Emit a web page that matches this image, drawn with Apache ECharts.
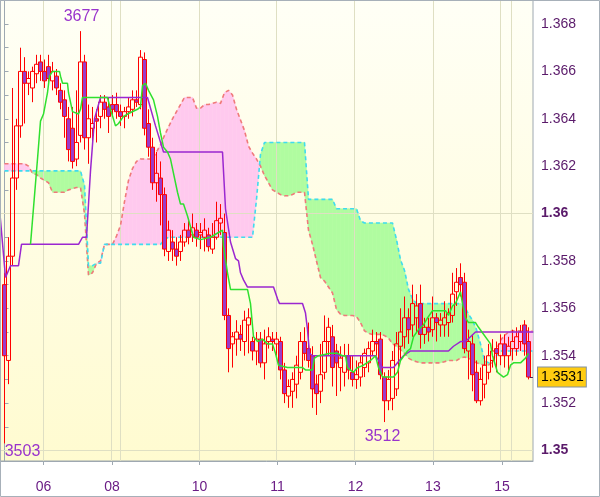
<!DOCTYPE html>
<html><head><meta charset="utf-8">
<script src="https://cdn.jsdelivr.net/npm/echarts@6/dist/echarts.min.js"></script>
<style>html,body{margin:0;padding:0;background:#fff}#c{width:600px;height:497px}</style>
</head><body><div id="c"></div>
<script>
// ---- data (bar index on x, price on y) ----
const dayLabels = ['06','08','10','11','12','13','15'];
const dayLabelPos = [9.75, 26.9, 48.75, 68.25, 87.75, 107.1, 124.4];
const dayLinePos = [9.75, 26.75, 29, 48.6, 68, 87.5, 107.1, 124, 126.7];
const priceLabels = [1.350,1.352,1.354,1.356,1.358,1.360,1.362,1.364,1.366,1.368];
const priceTicks = [1.350,1.351,1.352,1.353,1.354,1.355,1.356,1.357,1.358,1.359,1.360,1.361,1.362,1.363,1.364,1.365,1.366,1.367,1.368];
const lastPrice = 1.3531;

const open = [
1.3570,1.3538,1.3582,1.3615,1.3637,1.3660,1.3655,1.3653,1.3659,1.3664,
1.3660,1.3662,1.3656,1.3658,1.3652,1.3648,1.3640,1.3636,1.3623,1.3633,
1.3664,1.3632,1.3636,1.3640,1.3641,1.3647,1.3645,1.3646,1.3646,1.3643,
1.3641,1.3643,1.3644,1.3648,1.3646,1.3665,1.3638,1.3628,1.3613,1.3615,
1.3608,1.3584,1.3588,1.3585,1.3584,1.3588,1.3593,1.3591,1.3593,1.3591,
1.3590,1.3591,1.3585,1.3590,1.3596,1.3592,1.3557,1.3545,1.3547,1.3549,
1.3546,1.3553,1.3546,1.3542,1.3547,1.3537,1.3546,1.3547,1.3545,1.3546,
1.3534,1.3523,1.3525,1.3528,1.3533,1.3546,1.3543,1.3540,1.3528,1.3525,
1.3533,1.3546,1.3548,1.3542,1.3535,1.3533,1.3540,1.3533,1.3530,1.3531,
1.3535,1.3537,1.3542,1.3546,1.3547,1.3531,1.3521,1.3522,1.3526,1.3544,
1.3548,1.3556,1.3553,1.3556,1.3562,1.3549,1.3552,1.3551,1.3556,1.3553,
1.3553,1.3554,1.3557,1.3567,1.3573,1.3571,1.3542,1.3545,1.3533,1.3521,
1.3528,1.3533,1.3538,1.3543,1.3540,1.3545,1.3540,1.3543,1.3543,1.3546,
1.3553,1.3546];
const close = [
1.3540,1.3582,1.3615,1.3637,1.3660,1.3655,1.3657,1.3660,1.3663,1.3660,
1.3656,1.3657,1.3660,1.3653,1.3647,1.3641,1.3627,1.3622,1.3630,1.3664,
1.3632,1.3640,1.3638,1.3639,1.3647,1.3644,1.3641,1.3644,1.3643,1.3641,
1.3643,1.3645,1.3648,1.3647,1.3666,1.3636,1.3628,1.3613,1.3617,1.3608,
1.3585,1.3593,1.3585,1.3582,1.3588,1.3593,1.3590,1.3594,1.3590,1.3592,
1.3593,1.3586,1.3590,1.3597,1.3598,1.3557,1.3543,1.3548,1.3550,1.3547,
1.3555,1.3556,1.3542,1.3547,1.3537,1.3545,1.3548,1.3546,1.3547,1.3534,
1.3524,1.3527,1.3530,1.3536,1.3546,1.3541,1.3538,1.3526,1.3524,1.3532,
1.3546,1.3552,1.3535,1.3537,1.3539,1.3540,1.3534,1.3530,1.3532,1.3537,
1.3541,1.3543,1.3546,1.3545,1.3532,1.3521,1.3530,1.3538,1.3545,1.3550,
1.3556,1.3551,1.3562,1.3561,1.3549,1.3552,1.3550,1.3556,1.3554,1.3555,
1.3556,1.3558,1.3566,1.3571,1.3570,1.3543,1.3546,1.3532,1.3521,1.3530,
1.3536,1.3540,1.3542,1.3541,1.3545,1.3540,1.3544,1.3546,1.3548,1.3550,
1.3545,1.3531];
const low = [
1.3503,1.3528,1.3578,1.3610,1.3632,1.3638,1.3650,1.3647,1.3655,1.3656,
1.3653,1.3655,1.3652,1.3650,1.3644,1.3632,1.3622,1.3619,1.3620,1.3630,
1.3627,1.3621,1.3628,1.3630,1.3636,1.3640,1.3634,1.3641,1.3640,1.3637,
1.3636,1.3640,1.3641,1.3645,1.3644,1.3633,1.3624,1.3610,1.3605,1.3595,
1.3582,1.3580,1.3580,1.3578,1.3580,1.3586,1.3587,1.3588,1.3586,1.3585,
1.3584,1.3584,1.3583,1.3589,1.3591,1.3555,1.3533,1.3535,1.3540,1.3542,
1.3540,1.3541,1.3538,1.3536,1.3535,1.3530,1.3543,1.3542,1.3540,1.3530,
1.3520,1.3518,1.3518,1.3522,1.3530,1.3538,1.3535,1.3518,1.3515,1.3520,
1.3530,1.3540,1.3527,1.3523,1.3525,1.3527,1.3530,1.3527,1.3526,1.3527,
1.3531,1.3533,1.3540,1.3540,1.3530,1.3512,1.3517,1.3517,1.3523,1.3538,
1.3543,1.3545,1.3548,1.3550,1.3543,1.3545,1.3546,1.3548,1.3546,1.3548,
1.3548,1.3548,1.3554,1.3561,1.3565,1.3541,1.3530,1.3525,1.3520,1.3519,
1.3522,1.3530,1.3535,1.3533,1.3536,1.3535,1.3534,1.3538,1.3540,1.3542,
1.3540,1.3530];
const high = [
1.3575,1.3590,1.3653,1.3640,1.3670,1.3666,1.3660,1.3662,1.3667,1.3667,
1.3665,1.3667,1.3664,1.3661,1.3655,1.3652,1.3645,1.3645,1.3652,1.3677,
1.3667,1.3646,1.3645,1.3644,1.3650,1.3650,1.3649,1.3650,1.3651,1.3646,
1.3645,1.3649,1.3652,1.3652,1.3669,1.3668,1.3644,1.3632,1.3626,1.3622,
1.3611,1.3597,1.3593,1.3590,1.3591,1.3596,1.3597,1.3600,1.3596,1.3596,
1.3598,1.3594,1.3596,1.3605,1.3604,1.3600,1.3560,1.3550,1.3555,1.3553,
1.3559,1.3560,1.3548,1.3550,1.3550,1.3551,1.3552,1.3550,1.3550,1.3548,
1.3537,1.3530,1.3533,1.3540,1.3550,1.3552,1.3554,1.3544,1.3532,1.3545,
1.3557,1.3556,1.3553,1.3545,1.3544,1.3545,1.3545,1.3540,1.3538,1.3540,
1.3543,1.3546,1.3551,1.3550,1.3550,1.3533,1.3534,1.3542,1.3550,1.3560,
1.3565,1.3560,1.3570,1.3566,1.3570,1.3556,1.3556,1.3565,1.3558,1.3558,
1.3563,1.3560,1.3575,1.3577,1.3579,1.3575,1.3551,1.3549,1.3538,1.3535,
1.3540,1.3545,1.3547,1.3546,1.3549,1.3549,1.3548,1.3551,1.3552,1.3553,
1.3555,1.3552];

// Senkou span A (one value per bar index 0..132)
const spanA = [
1.3621,1.3621,1.3621,1.3621,1.3621,1.3621,1.3620,1.3617,1.36165,1.3615,
1.3614,1.3613,1.3609,1.3609,1.3609,1.3609,1.3610,1.36105,1.3611,1.3611,
1.3600,1.3574,1.3575,1.3579,1.3580,1.3587,1.3587,1.3587,1.35905,1.3595,
1.3605,1.3614,1.3619,1.3622,1.3623,1.3623,1.3623,1.3623,1.3626,1.3629,
1.3633,1.36365,1.3640,1.3643,1.3646,1.3649,1.3649,1.3649,1.36445,1.36445,
1.3646,1.3646,1.36465,1.3647,1.36465,1.3651,1.3652,1.3650,1.3644,1.36395,
1.3635,1.36285,1.36255,1.3623,1.3620,1.3616,1.3613,1.3610,1.3609,1.3608,
1.36075,1.36075,1.3608,1.3609,1.3609,1.3609,1.3593,1.3587,1.3580,1.3573,
1.35715,1.3569,1.35665,1.35595,1.35575,1.3557,1.3557,1.3557,1.35565,1.3554,
1.35505,1.35495,1.3549,1.3549,1.3549,1.35485,1.35475,1.3545,1.3544,1.35425,
1.3541,1.3539,1.3538,1.35375,1.3537,1.3537,1.3537,1.3537,1.3537,1.3537,
1.35375,1.3538,1.3538,1.3538,1.3539,1.35395,1.3539,1.3538,1.3537,1.35365,
1.3536,1.3536,1.35375,1.35425,1.35465,1.35485,1.3550,1.35505,1.35505,1.35505,
1.35505,1.35505,1.35505];
// Senkou span B (one value per bar index 0..132)
const spanB = [
1.3618,1.3618,1.3618,1.3618,1.3618,1.3618,1.3618,1.3618,1.3618,1.3618,
1.3618,1.3618,1.3618,1.3618,1.3618,1.3618,1.3618,1.3618,1.3618,1.3618,
1.3612,1.3578,1.3578,1.3579,1.3579,1.3587,1.3587,1.3587,1.3587,1.3587,
1.3587,1.3587,1.3587,1.3587,1.3587,1.3587,1.3587,1.3587,1.3587,1.3587,
1.3589,1.3590,1.3590,1.3590,1.3590,1.3590,1.3590,1.3590,1.3590,1.3590,
1.3590,1.3590,1.3590,1.3590,1.3590,1.3590,1.3590,1.3590,1.3590,1.3590,
1.3590,1.3590,1.3590,1.3606,1.3625,1.3630,1.3630,1.3630,1.3630,1.3630,
1.3630,1.3630,1.3630,1.3630,1.3630,1.3630,1.3606,1.3606,1.3606,1.3606,
1.3606,1.3606,1.3606,1.3602,1.3602,1.3602,1.3602,1.3602,1.3602,1.3597,
1.3596,1.3596,1.3596,1.3596,1.3596,1.3596,1.3596,1.3596,1.3589,1.35805,
1.3576,1.3568,1.3564,1.3562,1.3562,1.3562,1.3562,1.3562,1.3562,1.3562,
1.3562,1.3562,1.3562,1.3562,1.3562,1.3561,1.35575,1.3555,1.3551,1.3545,
1.3538,1.3537,1.35375,1.3540,1.3542,1.3542,1.3542,1.3542,1.3542,1.3542,
1.3542,1.3542,1.3542];

// Tenkan-sen vertices [bar index, price]
const tenkan = [[6.5,1.3587],[8.25,1.3623],[9,1.3639],[9.75,1.3642],[10.75,1.3651],[11.25,1.3658],[12,1.3660],[13.75,1.3660],[14,1.3658],[14.5,1.3655],[15.75,1.3655],[16,1.3651],[17,1.3643],[18.5,1.3642],[19,1.3644],[19.5,1.3649],[25.75,1.3649],[26.5,1.3644],[27.75,1.3637],[28.5,1.3638],[29.75,1.3641],[30.75,1.3642],[33.25,1.3644],[34,1.3645],[34.5,1.3654],[35.25,1.3655],[36,1.3652],[37.25,1.3648],[38.25,1.3641],[39,1.3634],[39.75,1.3628],[40.75,1.3626],[41.5,1.3623],[43.25,1.3609],[44,1.3604],[44.75,1.3604],[45.75,1.3599],[47.25,1.3590],[49,1.3589],[51.5,1.3590],[53.5,1.3592],[54.5,1.3593],[54.75,1.3586],[55.75,1.3575],[56.5,1.3568],[60.75,1.3568],[61.5,1.3562],[62.25,1.3548],[63.25,1.3546],[64.5,1.3547],[65.75,1.3545],[67,1.3545],[67.75,1.3541],[68.5,1.3536],[70.75,1.3535],[74.5,1.3535],[75.25,1.3534],[77,1.3534],[77.5,1.3539],[78.5,1.3540],[81.5,1.3541],[83.25,1.3541],[84.5,1.3540],[85.25,1.3540],[85.75,1.3535],[87.25,1.3533],[88.25,1.3535],[89.75,1.3536],[91.5,1.3538],[92.75,1.3540],[93.5,1.3535],[94.5,1.3531],[97.25,1.3531],[98.25,1.3533],[99,1.3538],[100.75,1.3542],[101.5,1.3543],[102.25,1.3548],[103.5,1.3551],[104.75,1.3553],[105.75,1.3556],[107,1.3559],[108.5,1.3559],[110.25,1.3559],[111,1.3557],[112,1.3561],[112.75,1.3562],[114,1.3567],[114.5,1.3562],[115.25,1.3556],[116,1.3554],[117.75,1.3554],[118.5,1.3552],[121.5,1.3545],[122,1.3540],[123.25,1.3533],[124.75,1.3531],[125.75,1.3532],[126.5,1.3536],[127.25,1.3537],[129,1.3537],[130.25,1.3539],[131,1.3541]];
// Kijun-sen vertices [bar index, price]
const kijun = [[-1.2,1.3601],[0.25,1.3573],[1.5,1.3578],[3.5,1.3578],[4.25,1.3587],[18.5,1.3587],[19.5,1.3590],[20.5,1.3590],[21.5,1.3618],[22.5,1.3640],[24,1.3649],[35.75,1.3649],[37.75,1.3637],[39.75,1.3626],[54.5,1.3626],[55.25,1.3602],[56.5,1.3588],[57.75,1.3581],[58.5,1.3580],[59,1.3575],[59.75,1.3572],[60.75,1.3569],[67.25,1.3569],[68.25,1.3564],[68.75,1.3562],[74.5,1.3562],[75.25,1.3558],[75.75,1.3551],[76.25,1.3541],[77,1.3540],[92.75,1.3540],[93.5,1.3538],[94.5,1.3535],[97.25,1.3535],[98.25,1.3537],[99.75,1.3540],[101.5,1.3542],[111,1.3542],[112.25,1.3544],[114,1.3546],[115.25,1.3546],[116.5,1.3548],[117.75,1.3550],[132.2,1.3550]];

// ---- chart ----
const FONT = '"Liberation Sans", Arial, sans-serif';
const PINK = '#ffc9ee', GREEN = '#b0fca0';
const GRIDC = '#dfdfc3', AXISC = '#9ea8b1';
const Y_MIN = 1.349557, Y_MAX = 1.369013;

const candleData = open.map((o, i) => [i, o, close[i], low[i], high[i]]);
const cloudData = spanA.slice(0, -1).map((a, i) => [i, a, spanB[i], spanA[i + 1], spanB[i + 1]]);

function renderCloud(params, api) {
  const i = api.value(0);
  const a0 = api.value(1), b0 = api.value(2), a1 = api.value(3), b1 = api.value(4);
  const pA0 = api.coord([i, a0]), pB0 = api.coord([i, b0]);
  const pA1 = api.coord([i + 1, a1]), pB1 = api.coord([i + 1, b1]);
  const d0 = a0 - b0, d1 = a1 - b1;
  const col = d => (d >= 0 ? PINK : GREEN);
  const st = c => ({ fill: c, stroke: c, lineWidth: 0.6 });
  if (d0 * d1 >= 0) {
    const c = col(d0 + d1);
    return { type: 'polygon', shape: { points: [pA0, pA1, pB1, pB0] }, style: st(c) };
  }
  const t = d0 / (d0 - d1);
  const pX = [pA0[0] + t * (pA1[0] - pA0[0]), pA0[1] + t * (pA1[1] - pA0[1])];
  return { type: 'group', children: [
    { type: 'polygon', shape: { points: [pA0, pX, pB0] }, style: st(col(d0)) },
    { type: 'polygon', shape: { points: [pX, pA1, pB1] }, style: st(col(d1)) }
  ]};
}

const chart = echarts.init(document.getElementById('c'), null, { renderer: 'canvas' });
const option = {
  animation: false,
  backgroundColor: '#ffffff',
  textStyle: { fontFamily: FONT },
  graphic: [{ type: 'rect', z: 100, silent: true,
    shape: { x: 0.5, y: 0.5, width: 599, height: 496 },
    style: { fill: null, stroke: '#a7b0b9', lineWidth: 1 } }],
  grid: {
    left: 0, top: 0, right: 67, bottom: 36, show: true,
    borderColor: AXISC, borderWidth: 1,
    backgroundColor: new echarts.graphic.LinearGradient(0, 0, 0, 1, [
      { offset: 0, color: '#fffff6' }, { offset: 1, color: '#fffbd0' }])
  },
  xAxis: {
    type: 'value', min: -1.125, max: 132.125,
    splitLine: { show: false },
    axisLine: { lineStyle: { color: AXISC } },
    axisTick: { show: true, customValues: dayLabelPos, length: 4, lineStyle: { color: AXISC } },
    axisLabel: {
      customValues: dayLabelPos, margin: 19, color: '#6b1d86', fontSize: 14, fontFamily: FONT,
      formatter: v => { const j = dayLabelPos.findIndex(p => Math.abs(p - v) < 0.01); return j >= 0 ? dayLabels[j] : ''; }
    }
  },
  yAxis: [{
    type: 'value', position: 'right', min: Y_MIN, max: Y_MAX,
    splitLine: { show: false },
    axisLine: { show: true, lineStyle: { color: AXISC } },
    axisTick: { show: true, customValues: priceTicks, length: 4, lineStyle: { color: AXISC } },
    axisLabel: {
      customValues: priceLabels, margin: 8, color: '#5a1a6a', fontSize: 14, fontFamily: FONT,
      formatter: v => {
        const s = String(parseFloat(v.toFixed(3)));
        return Math.abs(v * 100 - Math.round(v * 100)) < 1e-6 ? '{b|' + s + '}' : s;
      },
      rich: { b: { fontWeight: 'bold', fontSize: 14, color: '#5a1a6a', fontFamily: FONT } }
    }
  }, {
    // current-price tag on the price scale
    type: 'value', position: 'right', min: Y_MIN, max: Y_MAX,
    splitLine: { show: false }, axisLine: { show: false }, axisTick: { show: false },
    axisLabel: {
      customValues: [lastPrice], margin: 5, color: '#000', fontSize: 14, fontFamily: FONT,
      formatter: v => v.toFixed(4),
      backgroundColor: '#ffcc10', borderColor: '#8391a0', borderWidth: 1, padding: [3, 2, 2, 3]
    }
  }],
  series: [
    { type: 'custom', name: 'cloud', z: 1, silent: true, clip: true,
      renderItem: renderCloud, data: cloudData, encode: { x: 0, y: [1, 2, 3, 4] } },
    { type: 'line', name: 'grid', data: [], z: 1, silent: true,
      markLine: { silent: true, symbol: 'none', z: 1.5, animation: false, label: { show: false },
        lineStyle: { color: GRIDC, width: 1, type: 'solid' },
        data: dayLinePos.map(v => ({ xAxis: v })).concat(priceLabels.map(v => ({ yAxis: v }))) } },
    { type: 'line', name: 'spanA', z: 2, silent: true, showSymbol: false, symbol: 'none',
      data: spanA.map((v, i) => [i, v]),
      lineStyle: { color: '#f07a7a', width: 1.6, type: [4, 3] } },
    { type: 'line', name: 'spanB', z: 2, silent: true, showSymbol: false, symbol: 'none',
      data: spanB.map((v, i) => [i, v]),
      lineStyle: { color: '#3fdcef', width: 1.6, type: [4, 3] } },
    { type: 'candlestick', name: 'price', z: 3, barWidth: 4, data: candleData, clip: false,
      encode: { x: 0, y: [1, 2, 3, 4] },
      itemStyle: { color: 'rgba(0,0,0,0)', color0: '#9a3cc8', borderColor: '#ff0000', borderColor0: '#ff0000', borderWidth: 1 },
      markLine: {
        silent: true, symbol: 'none', z: 7, animation: false, label: { show: false },
        lineStyle: { color: '#4a1a5a', width: 1, type: 'solid' },
        data: [ [ { coord: [131.3, lastPrice] }, { coord: [132.1, lastPrice] } ] ]
      } },
    { type: 'line', name: 'kijun', z: 4, silent: true, showSymbol: false, symbol: 'none',
      data: kijun, lineStyle: { color: '#9b27d0', width: 1.5 } },
    { type: 'line', name: 'tenkan', z: 4, silent: true, showSymbol: false, symbol: 'none',
      data: tenkan, lineStyle: { color: '#2fe02f', width: 1.5 } },
    { type: 'line', name: 'marks', data: [], z: 6, clip: false, silent: true,
      markPoint: {
        symbol: 'circle', symbolSize: 1, itemStyle: { color: 'rgba(0,0,0,0)' },
        label: { show: true, position: 'inside', color: '#9a34cc', fontSize: 16, fontFamily: FONT, formatter: p => p.name },
        data: [
          { name: '3677', coord: [19, 1.3677], label: { offset: [1, -15] } },
          { name: '3503', coord: [0, 1.3503], label: { offset: [18, 8] } },
          { name: '3512', coord: [95, 1.3512], label: { offset: [-2, 15] } }
        ]
      }
    }
  ]
};
chart.setOption(option);
</script></body></html>
